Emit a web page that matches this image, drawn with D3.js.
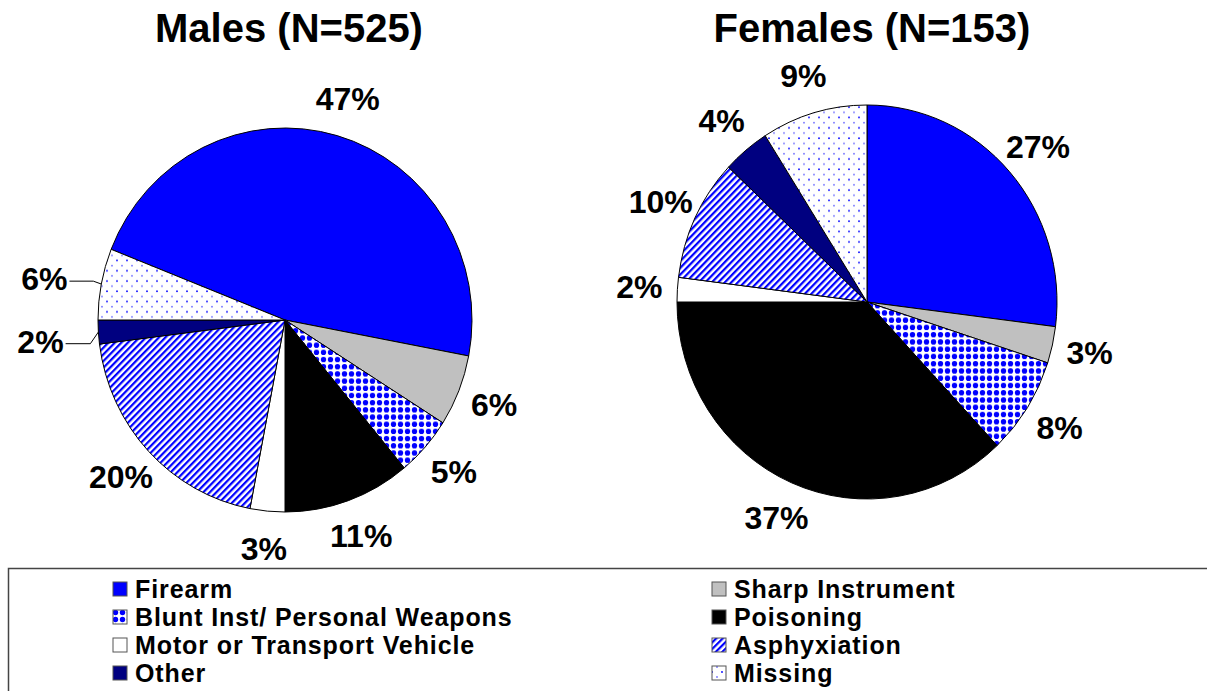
<!DOCTYPE html>
<html>
<head>
<meta charset="utf-8">
<script src="https://cdn.jsdelivr.net/npm/d3@7"></script>
<style>
  html, body { margin: 0; padding: 0; background: #fff; }
  svg { display: block; font-family: Arial, "Liberation Sans", sans-serif; }
</style>
</head>
<body>
<svg id="chart" width="1207" height="691"></svg>
<script>
// Data
const categories = [
  "Firearm", "Sharp Instrument", "Blunt Inst/ Personal Weapons", "Poisoning",
  "Motor or Transport Vehicle", "Asphyxiation", "Other", "Missing"
];
const malePct = [47, 6, 5, 11, 3, 20, 2, 6];
const femalePct = [27, 3, 8, 37, 2, 10, 4, 9];
const chartTitles = ["Males (N=525)", "Females (N=153)"];
// labels that Excel pulled out with a leader line
const leaderLabels = [["Other", "Missing"], []];

// Layout
const W = 1207, H = 691;
const PIES = [
  { cx: 285, cy: 320, rx: 187, ry: 192, start: -68.4, titleX: 289 },
  { cx: 867, cy: 302, rx: 190, ry: 197, start: 0, titleX: 872 }
];
const LABEL_OFF = 38, LEADER_OFF = 58;
const FILLS = ["#0000ff", "#c0c0c0", "url(#blunt)", "#000000", "#ffffff", "url(#asph)", "#000080", "url(#missing)"];

const svg = d3.select("#chart");
const defs = svg.append("defs");

// Patterns
const blunt = defs.append("pattern").attr("id", "blunt")
  .attr("patternUnits", "userSpaceOnUse").attr("width", 7).attr("height", 7);
blunt.append("rect").attr("width", 7).attr("height", 7).attr("fill", "#fff");
blunt.append("circle").attr("cx", 3.5).attr("cy", 3.5).attr("r", 2.7).attr("fill", "#0000ff");

const asph = defs.append("pattern").attr("id", "asph")
  .attr("patternUnits", "userSpaceOnUse").attr("width", 4.6).attr("height", 4.6)
  .attr("patternTransform", "rotate(45)");
asph.append("rect").attr("width", 4.6).attr("height", 4.6).attr("fill", "#fff");
asph.append("rect").attr("width", 2.2).attr("height", 4.6).attr("fill", "#0000ff");

const miss = defs.append("pattern").attr("id", "missing")
  .attr("patternUnits", "userSpaceOnUse").attr("width", 10).attr("height", 10);
miss.append("rect").attr("width", 10).attr("height", 10).attr("fill", "#fff");
miss.append("circle").attr("cx", 2).attr("cy", 2).attr("r", 0.9).attr("fill", "#0000ff");
miss.append("circle").attr("cx", 7).attr("cy", 7).attr("r", 0.9).attr("fill", "#3333ff").attr("opacity", 0.7);

svg.append("rect").attr("width", W).attr("height", H).attr("fill", "#fff");

const color = d3.scaleOrdinal().domain(categories).range(FILLS);

function drawPie(values, cfg, title, leaders) {
  const rows = categories.map((c, i) => ({ cat: c, value: values[i] }));
  const a0 = cfg.start * Math.PI / 180;
  const arcs = d3.pie().sort(null).value(d => d.value)
    .startAngle(a0).endAngle(a0 + 2 * Math.PI)(rows);

  const g = svg.append("g")
    .attr("transform", `translate(${cfg.cx},${cfg.cy}) scale(1,${cfg.ry / cfg.rx})`);
  const arc = d3.arc().innerRadius(0).outerRadius(cfg.rx);

  g.selectAll("path").data(arcs).enter().append("path")
    .attr("d", arc)
    .attr("fill", d => color(d.data.cat))
    .attr("stroke", "#000")
    .attr("stroke-width", 1)
    .attr("vector-effect", "non-scaling-stroke");

  // title
  svg.append("text")
    .attr("x", cfg.titleX).attr("y", 42)
    .attr("text-anchor", "middle")
    .attr("font-size", 40).attr("font-weight", "bold")
    .text(title);

  // labels
  arcs.forEach(d => {
    const mid = (d.startAngle + d.endAngle) / 2;
    const s = Math.sin(mid), c = Math.cos(mid);
    const hasLeader = leaders.includes(d.data.cat);
    const off = hasLeader ? LEADER_OFF : LABEL_OFF;
    const lx = cfg.cx + (cfg.rx + off) * s;
    const ly = cfg.cy - (cfg.ry + off) * c + (hasLeader ? 6 : 0);
    const t = svg.append("text")
      .attr("x", lx).attr("y", ly)
      .attr("text-anchor", "middle")
      .attr("dominant-baseline", "central")
      .attr("font-size", 32).attr("font-weight", "bold")
      .text(d.data.value + "%");
    if (hasLeader) {
      const w = t.node().getBBox().width;
      const ex = cfg.cx + cfg.rx * s, ey = cfg.cy - cfg.ry * c;
      const x1 = lx + w / 2 + 2;
      svg.append("polyline")
        .attr("points", `${x1},${ly + 2} ${ex - 8},${ly + 2} ${ex},${ey}`)
        .attr("fill", "none").attr("stroke", "#000").attr("stroke-width", 1);
    }
  });
}

drawPie(malePct, PIES[0], chartTitles[0], leaderLabels[0]);
drawPie(femalePct, PIES[1], chartTitles[1], leaderLabels[1]);

// Legend
const legend = svg.append("g");
legend.append("rect")
  .attr("x", 8.5).attr("y", 568.5).attr("width", W + 20).attr("height", 200)
  .attr("fill", "none").attr("stroke", "#444").attr("stroke-width", 1.5);

const colX = d3.scaleOrdinal().domain([0, 1]).range([113, 712]);
const rowY = d3.scalePoint().domain([0, 1, 2, 3]).range([589, 673]);

categories.forEach((c, i) => {
  const x = colX(i % 2), y = rowY(Math.floor(i / 2));
  legend.append("rect")
    .attr("x", x).attr("y", y - 7).attr("width", 14).attr("height", 14)
    .attr("fill", color(c)).attr("stroke", "#555").attr("stroke-width", 1);
  legend.append("text")
    .attr("x", x + 22).attr("y", y)
    .attr("dominant-baseline", "central")
    .attr("font-size", 25).attr("font-weight", "bold")
    .attr("letter-spacing", 0.9)
    .text(c);
});
</script>
</body>
</html>
